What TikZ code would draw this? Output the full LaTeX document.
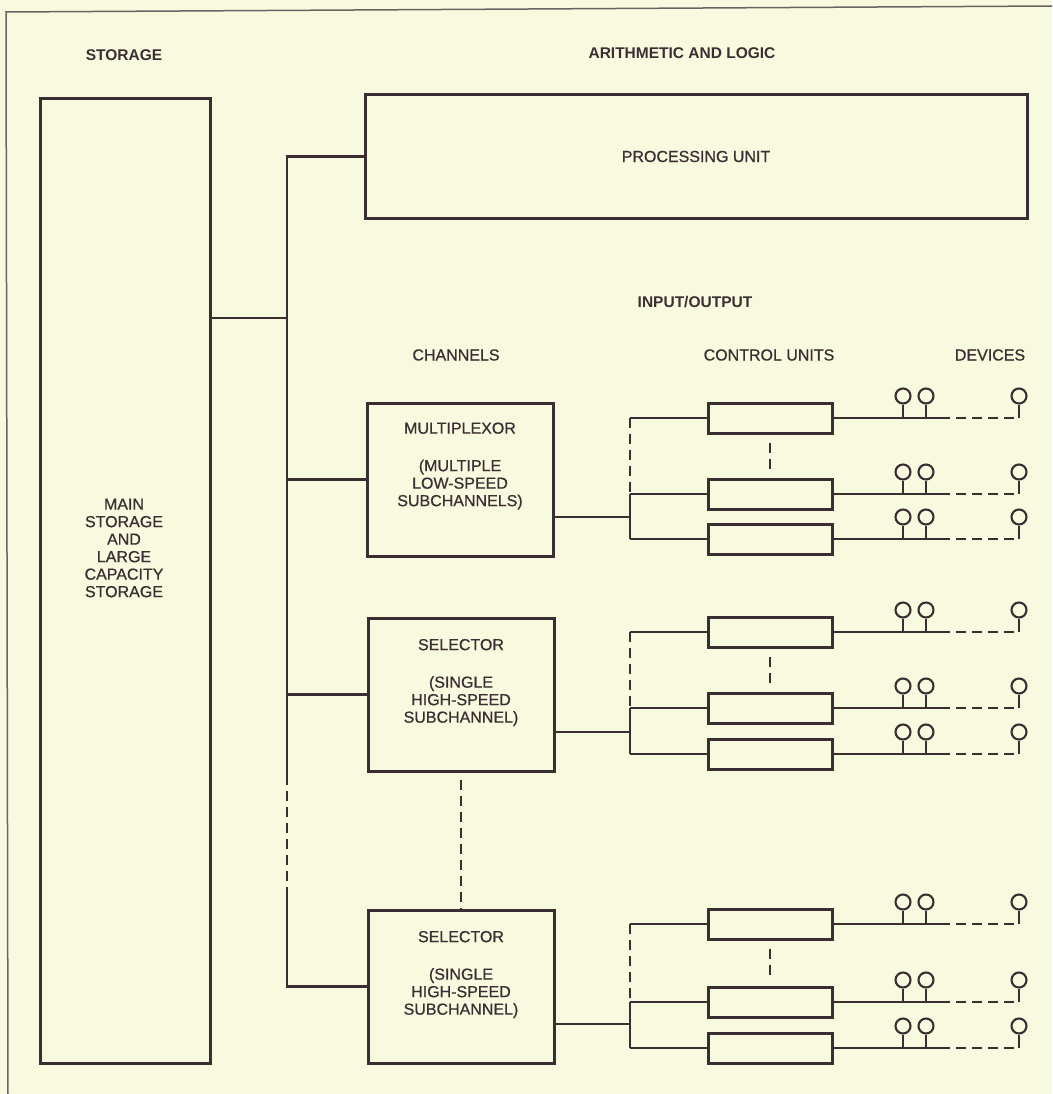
\documentclass[tikz,border=0pt]{standalone}
\usepackage{fontspec}
\setmainfont{Liberation Sans}
\newfontfamily\medfont[BoldFont={Liberation Sans},BoldFeatures={FakeBold=0.7}]{Liberation Sans}
\definecolor{bg}{RGB}{248,250,224}
\definecolor{ink}{RGB}{58,46,50}
\tikzset{
  thickbox/.style={draw=ink, line width=3pt, inner sep=0pt},
  chbox/.style={thickbox, minimum width=186pt, minimum height=153pt},
  cubox/.style={thickbox, minimum width=124pt, minimum height=30pt},
  conn/.style={draw=ink, line width=2.2pt},
  dconn/.style={conn, dash pattern=on 10pt off 6pt},
  lbl/.style={text=ink, font=\medfont\bfseries\fontsize{16}{17.5}\selectfont, align=center, inner sep=0pt},
  blbl/.style={text=ink, font=\fontsize{15.5}{17.5}\selectfont\bfseries, align=center, inner sep=0pt},
  dev/.style={draw=ink, line width=2.1pt, circle, minimum size=15pt, inner sep=0pt},
  frame/.style={draw=ink!75, line width=1.5pt}
}
% a row of devices attached to a control unit
\newcommand{\devrow}[2]{%
  \coordinate (#1s) at (940,#2);
  \coordinate (#1e) at (1019,#2);
  \node[dev] (#1d1) at (903,#2-22) {};
  \node[dev] (#1d2) at (926,#2-22) {};
  \node[dev] (#1d3) at (1019,#2-22) {};
  \draw[conn] (#1.east |- #1s) -- (#1s);
  \draw[dconn] (#1s) -- (#1e);
  \draw[conn] (#1e) -- (#1d3.south);
  \draw[conn] (#1d1.south |- #1s) -- (#1d1.south);
  \draw[conn] (#1d2.south |- #1s) -- (#1d2.south);
}
% a group of three control units fed by a channel
\newcommand{\cugroup}[5]{%
  \node[cubox] (#1a) at (770,#2) {};
  \node[cubox] (#1b) at (770,#3) {};
  \node[cubox] (#1c) at (770,#4) {};
  \coordinate (#1ja) at (630,#2);
  \coordinate (#1jb) at (630,#3);
  \coordinate (#1jc) at (630,#4);
  \coordinate (#1in) at (630,#5);
  \draw[dconn] (#1ja) -- (#1jb);
  \draw[conn] (#1jb) -- (#1jc);
  \draw[conn] (#1ja) -- (#1a.west);
  \draw[conn] (#1jb) -- (#1b.west);
  \draw[conn] (#1jc) -- (#1c.west);
  \draw[dconn] ([yshift=-8pt]#1a.south) -- ([yshift=5pt]#1b.north);
  \devrow{#1a}{#2}
  \devrow{#1b}{#3}
  \devrow{#1c}{#4}
}
\begin{document}
\begin{tikzpicture}[x=1pt,y=-1pt]
\path[fill=bg, use as bounding box] (0,0) rectangle (1052,1094);
% page frame (top and left edges visible)
\draw[frame] (1052,6) -- (6,12) -- (8,1094);

% headings
\node[blbl] (hstor) at (124,55) {STORAGE};
\node[blbl] (harith) at (682,53) {ARITHMETIC AND LOGIC};
\node[blbl] (hio) at (695,302) {INPUT/OUTPUT};
\node[lbl] (hch) at (456,355) {CHANNELS};
\node[lbl] (hcu) at (769,355) {CONTROL UNITS};
\node[lbl] (hdev) at (990,355) {DEVICES};

% storage
\node[thickbox, minimum width=170pt, minimum height=964pt] (stor) at (125,581) {};
\node[lbl] (storlbl) at (124,548) {MAIN\\STORAGE\\AND\\LARGE\\CAPACITY\\STORAGE};

% processing unit
\node[thickbox, minimum width=662pt, minimum height=123pt, lbl, draw=ink, line width=3pt] (pu) at (696,156.5) {PROCESSING UNIT};

% channels
\node[chbox] (mux) at (460,479.5) {};
\node[lbl] (muxlbl) at (460,466) {MULTIPLEXOR\\[20pt](MULTIPLE\\LOW-SPEED\\SUBCHANNELS)};
\node[chbox] (sel1) at (461,694.5) {};
\node[lbl] (sel1lbl) at (461,682.5) {SELECTOR\\[20pt](SINGLE\\HIGH-SPEED\\SUBCHANNEL)};
\node[chbox] (sel2) at (461,986.5) {};
\node[lbl] (sel2lbl) at (461,974.5) {SELECTOR\\[20pt](SINGLE\\HIGH-SPEED\\SUBCHANNEL)};
\draw[dconn] ([yshift=-7pt]sel1.south) -- (sel2.north);

% bus
\coordinate (btop) at (287,156.5);
\coordinate (bst) at (287,318);
\coordinate (bd1) at (287,775);
\coordinate (bd2) at (287,890);
\coordinate (bbot) at (287,986.5);
\draw[conn] (pu.west) -- (btop) -- (bd1);
\draw[dconn] (bd1) -- (bd2);
\draw[conn] (bd2) -- (bbot) -- (sel2.west);
\draw[conn] (stor.east |- bst) -- (bst);
\draw[conn] (btop |- mux.west) -- (mux.west);
\draw[conn] (btop |- sel1.west) -- (sel1.west);

% control units and devices
\cugroup{ga}{418}{494}{539}{517}
\cugroup{gb}{632}{708}{754}{732}
\cugroup{gc}{924}{1002}{1048}{1024}
\draw[conn] (mux.east |- gain) -- (gain);
\draw[conn] (sel1.east |- gbin) -- (gbin);
\draw[conn] (sel2.east |- gcin) -- (gcin);
\end{tikzpicture}
\end{document}
